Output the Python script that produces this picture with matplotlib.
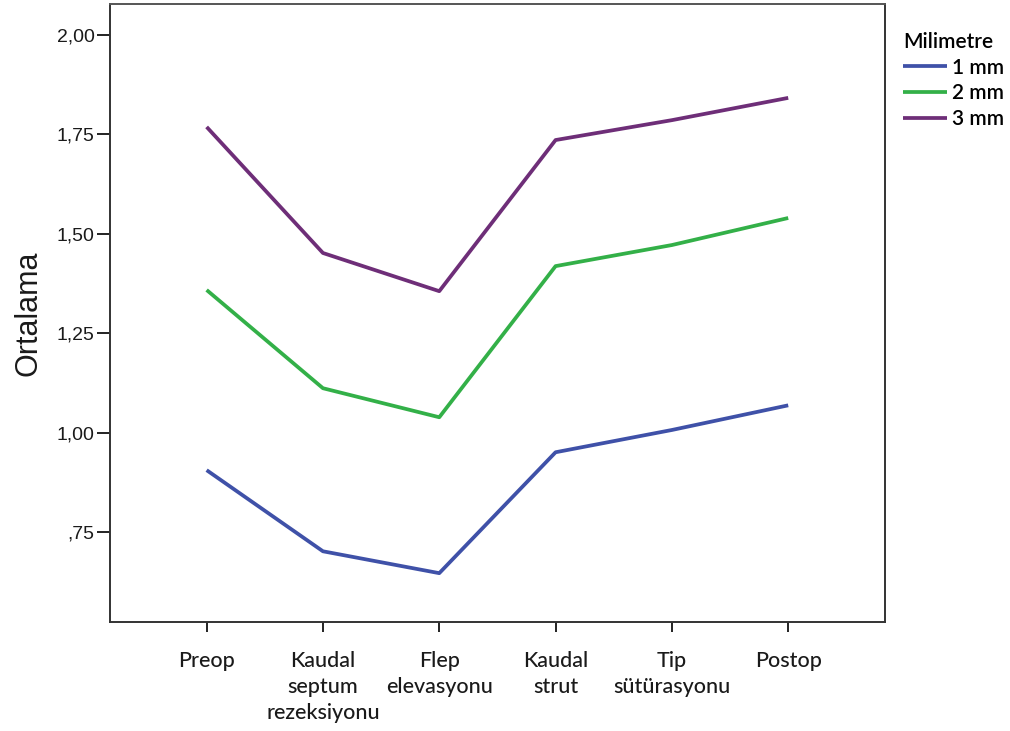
import matplotlib
matplotlib.use("Agg")
import matplotlib.pyplot as plt
from matplotlib.ticker import FuncFormatter

stages = ["Preop", "Kaudal\nseptum\nrezeksiyonu", "Flep\nelevasyonu",
          "Kaudal\nstrut", "Tip\nsütürasyonu", "Postop"]
series_names = ["1 mm", "2 mm", "3 mm"]
mm1 = [0.906, 0.702, 0.647, 0.951, 1.007, 1.069]
mm2 = [1.359, 1.112, 1.039, 1.419, 1.472, 1.540]
mm3 = [1.769, 1.452, 1.356, 1.736, 1.786, 1.842]
y_ticks = [0.75, 1.00, 1.25, 1.50, 1.75, 2.00]
colors = ["#3F51A8", "#33B048", "#6E2E78"]

fig = plt.figure(figsize=(10.10, 7.31), dpi=100)
ax = fig.add_axes([0.109, 0.149, 0.767, 0.8455])

x = list(range(1, len(stages) + 1))
for vals, name, c in zip([mm1, mm2, mm3], series_names, colors):
    ax.plot(x, vals, color=c, lw=2.7, label=name, solid_capstyle="butt")

ax.set_xlim(1 - 0.83, len(stages) + 0.83)
ax.set_ylim(0.524, 2.078)
ax.set_xticks(x)
ax.set_xticklabels(stages, fontfamily="Lato", fontsize=15.5, linespacing=1.36,
                   color="#1a1a1a", fontweight="medium")
ax.set_yticks(y_ticks)


def comma_fmt(v, pos):
    s = f"{v:.2f}".replace(".", ",")
    if s.startswith("0"):
        s = s[1:]
    return s


ax.yaxis.set_major_formatter(FuncFormatter(comma_fmt))
for lab in ax.get_yticklabels():
    lab.set_fontfamily("Liberation Sans")
    lab.set_fontsize(14)
    lab.set_color("#1a1a1a")

ax.tick_params(axis="y", direction="out", length=9.5, width=1.4,
               color="#222222", pad=1.5)
ax.tick_params(axis="x", direction="out", length=7, width=1.4,
               color="#222222", pad=14)
for sp in ax.spines.values():
    sp.set_linewidth(1.4)
    sp.set_color("#333333")
ax.spines["top"].set_color("#555555")

ax.set_ylabel("Ortalama", fontfamily="Liberation Sans", fontsize=22,
              color="#1a1a1a", labelpad=10)

leg = ax.legend(title="Milimetre", loc="upper left",
                bbox_to_anchor=(1.008, 0.975), frameon=False,
                prop={"family": "Lato", "size": 15, "weight": "semibold"},
                handlelength=2.1, handletextpad=0.25, labelspacing=0.28,
                borderaxespad=0.2)
leg.get_title().set_fontfamily("Lato")
leg.get_title().set_fontsize(15)
leg.get_title().set_fontweight("semibold")
leg._legend_box.align = "left"
leg._legend_box.sep = 4

fig.savefig("out.png", dpi=100, facecolor="white")
